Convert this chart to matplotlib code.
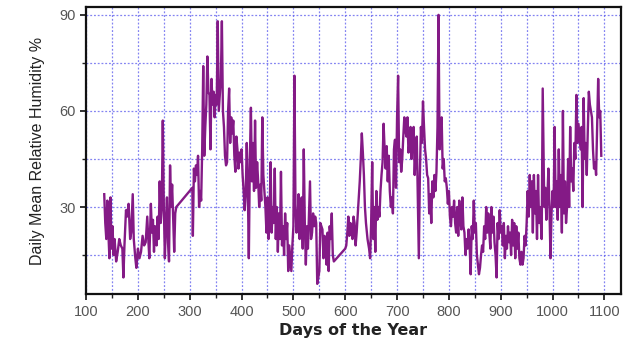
import matplotlib
matplotlib.use("Agg")
import matplotlib.pyplot as plt
from matplotlib.ticker import MultipleLocator

days = [135,137,139,141,143,145,147,149,151,153,155,158,161,164,167,170,172,174,177,179,182,185,187,190,192,195,197,200,203,206,209,212,215,218,220,222,225,227,229,231,233,236,238,240,242,244,246,248,250,252,254,256,258,260,262,264,266,268,270,272,274,
        305,306,308,310,312,314,316,318,320,322,324,326,328,330,332,334,336,338,340,342,344,346,348,350,352,354,356,358,360,362,364,366,368,370,372,374,376,378,380,382,384,386,388,390,392,394,396,398,400,402,404,406,408,410,412,414,416,418,420,422,424,426,428,430,432,434,436,438,440,442,444,446,448,450,452,454,456,458,460,462,464,466,468,470,472,474,476,478,480,482,484,486,488,490,492,494,496,498,500,502,504,506,508,510,512,514,516,518,520,522,524,526,528,530,532,534,536,538,540,542,544,546,548,550,552,554,556,558,560,562,564,566,568,570,572,574,576,578,
        600,602,604,606,608,610,612,614,616,618,620,622,625,628,630,632,634,636,638,640,643,646,648,650,652,654,656,658,660,662,664,666,668,670,672,674,676,678,680,682,684,686,688,690,692,694,696,698,700,702,704,706,708,710,712,714,716,718,720,722,724,726,728,730,732,734,736,738,740,742,744,746,748,750,752,754,756,758,760,762,764,766,768,770,772,774,776,778,780,782,784,786,788,790,792,794,796,798,800,802,804,806,808,810,812,814,816,818,820,822,824,826,828,830,832,834,836,838,840,842,844,846,848,850,852,854,856,858,860,862,864,866,868,870,872,874,876,878,880,882,884,886,888,890,892,894,896,898,900,902,904,906,908,910,912,914,916,918,920,922,924,926,928,930,932,934,936,938,940,942,944,946,948,950,952,954,956,958,960,962,964,966,968,970,972,974,976,979,981,984,986,988,990,992,994,996,998,1000,1002,1004,1006,1008,1010,1012,1014,1016,1018,1020,1022,1024,1026,1028,1030,1032,1034,1036,1038,1040,1042,1044,1046,1048,1050,1052,1054,1056,1058,1060,1062,1064,1066,1068,1070,1072,1074,1076,1078,1080,1082,1084,1086,1088,1090,1092,1094]

humidity = [34,25,20,32,22,14,33,17,24,15,20,13,16,20,18,17,8,18,29,27,31,20,22,34,20,14,11,17,14,16,21,18,19,27,20,14,31,22,26,16,24,18,27,20,38,25,30,57,30,14,25,33,19,13,43,30,37,26,16,28,30,
            36,21,42,38,43,40,46,30,35,32,48,74,46,55,62,77,66,65,48,70,62,66,58,65,62,88,60,65,70,88,60,55,46,43,44,60,67,50,58,53,57,46,41,52,48,42,47,44,48,40,35,29,34,50,36,14,45,61,38,50,35,57,36,44,38,30,37,32,58,40,35,30,22,33,20,28,44,22,30,25,42,20,30,16,28,20,41,18,24,15,28,20,25,10,18,14,10,18,24,71,30,22,26,34,20,29,33,17,48,25,12,24,17,27,38,20,22,28,24,27,25,6,8,10,25,24,23,14,21,18,12,22,10,24,20,28,15,13,
            17,18,22,27,21,25,24,20,27,25,18,22,30,38,45,53,47,40,30,25,20,17,14,25,44,20,30,16,35,26,30,27,35,40,44,56,48,42,49,38,46,35,30,33,28,48,51,36,58,71,44,48,41,45,52,58,54,52,58,47,50,55,45,52,55,40,48,52,32,14,40,55,50,63,55,48,45,40,39,28,34,25,38,33,40,35,41,55,90,48,55,58,42,45,38,39,36,31,35,27,24,30,27,32,25,22,30,21,32,26,23,33,24,22,15,20,17,23,18,9,24,20,32,22,25,15,12,9,11,15,18,16,24,20,30,22,28,22,17,30,22,27,19,15,8,25,20,29,22,24,18,25,14,21,17,24,19,22,15,26,18,25,14,24,17,22,14,12,16,12,14,21,18,25,35,27,40,30,38,22,40,28,35,20,40,25,30,20,67,30,36,26,33,42,30,14,28,35,30,55,30,38,26,48,30,40,22,60,28,38,25,30,45,30,55,38,42,35,50,45,65,50,56,52,48,55,30,64,45,50,40,54,66,62,60,58,48,42,44,40,55,70,58,60,46]

x_ticks = [100,200,300,400,500,600,700,800,900,1000,1100]
y_ticks = [30,60,90]

plt.rcParams['font.family'] = ['Liberation Sans', 'DejaVu Sans']
fig = plt.figure(figsize=(6.33, 3.42), dpi=100)
ax = fig.add_axes([0.136, 0.140, 0.845, 0.840])

ax.plot(days, humidity, color='#841a86', lw=1.7)

ax.set_xlim(100, 1132)
ax.set_ylim(2.8, 92.5)
ax.set_xticks(x_ticks)
ax.set_yticks(y_ticks)
ax.xaxis.set_minor_locator(MultipleLocator(50))
ax.yaxis.set_minor_locator(MultipleLocator(15))

ax.grid(True, which='both', color='#6464ee', linestyle=(0, (1.5, 1.5)), lw=0.9, alpha=0.8)
ax.set_axisbelow(True)

for s in ax.spines.values():
    s.set_linewidth(1.6)
    s.set_color('#111111')

ax.tick_params(which='major', direction='out', length=4, width=1.3, labelsize=10.5, colors='#222222', labelcolor='#555555')
ax.tick_params(which='minor', direction='out', length=3, width=1.0, colors='#222222')

ax.set_xlabel('Days of the Year', fontsize=11.5, fontweight='bold', color='#222222', labelpad=3,
              family=['DejaVu Sans'])
ax.set_ylabel('Daily Mean Relative Humidity %', fontsize=11.5, color='#222222', labelpad=10)

fig.savefig('out.png', dpi=100)
